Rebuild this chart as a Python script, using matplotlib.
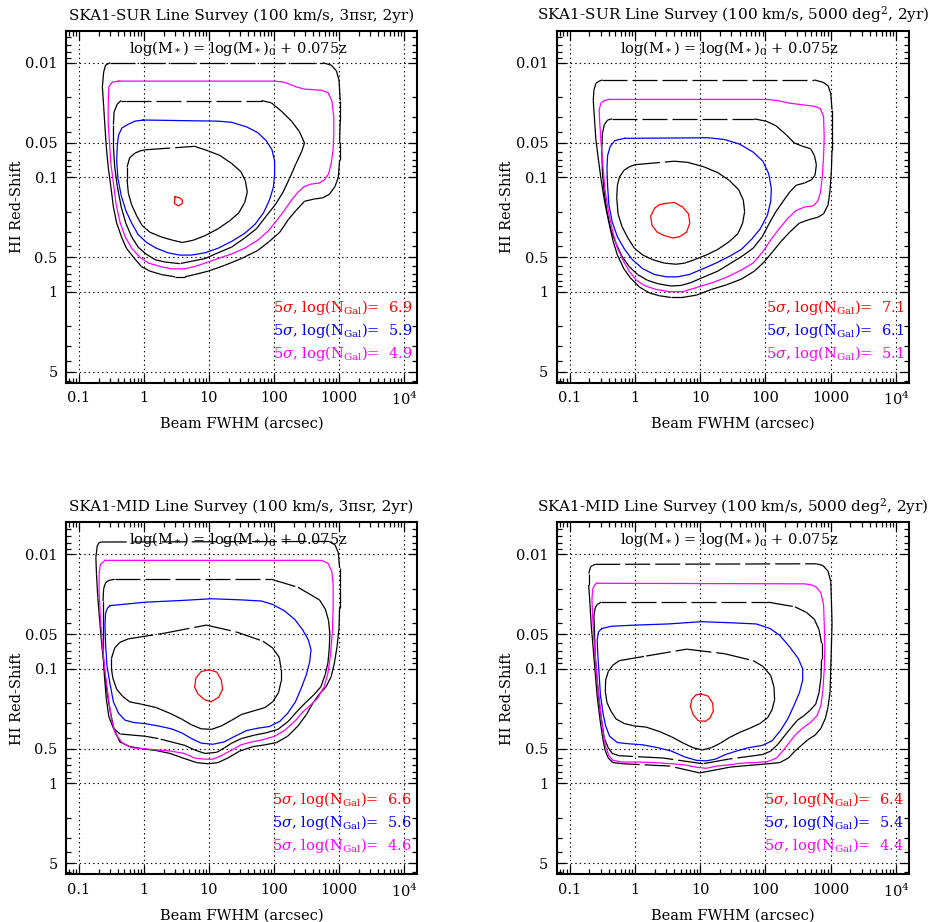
"""HI line survey detection contours for SKA1-SUR and SKA1-MID."""
import numpy as np
import matplotlib
matplotlib.use('Agg')
import matplotlib.pyplot as plt
from matplotlib.collections import LineCollection
from matplotlib.ticker import LogLocator, NullFormatter

plt.rcParams['font.family'] = ['DejaVu Serif']
plt.rcParams['mathtext.fontset'] = 'dejavuserif'
plt.rcParams['font.size'] = 10
plt.rcParams['lines.scale_dashes'] = False

# contour vertices: (log10 beam FWHM [arcsec], log10 z)

# SKA1-SUR, 3 pi sr
sur3_outer = [(-0.52, -2.00), (2.75, -2.00), (2.88, -1.98), (2.96, -1.93), (3.00, -1.85), (3.02, -1.67),
              (3.02, -1.50), (3.01, -1.31), (3.01, -1.15), (2.99, -1.00), (2.94, -0.92), (2.85, -0.85),
              (2.75, -0.82), (2.62, -0.81), (2.47, -0.79), (2.34, -0.71), (2.22, -0.63), (2.09, -0.52),
              (1.93, -0.44), (1.75, -0.36), (1.50, -0.29), (1.24, -0.23), (0.99, -0.18), (0.78, -0.15),
              (0.63, -0.13), (0.48, -0.13), (0.27, -0.15), (0.09, -0.18), (-0.04, -0.22), (-0.16, -0.30),
              (-0.27, -0.38), (-0.34, -0.47), (-0.42, -0.60), (-0.47, -0.74), (-0.51, -0.92), (-0.55, -1.09),
              (-0.58, -1.27), (-0.60, -1.44), (-0.62, -1.62), (-0.64, -1.79), (-0.62, -1.92), (-0.59, -1.98)]
sur3_mid = [(-0.27, -1.67), (1.81, -1.67), (1.96, -1.65), (2.11, -1.58), (2.27, -1.49), (2.39, -1.40),
            (2.47, -1.30), (2.43, -1.23), (2.34, -1.12), (2.24, -0.99), (2.14, -0.87), (2.02, -0.76),
            (1.88, -0.66), (1.73, -0.55), (1.55, -0.47), (1.35, -0.39), (1.14, -0.34), (0.94, -0.29),
            (0.55, -0.245), (0.32, -0.26), (0.17, -0.28), (0.03, -0.33), (-0.09, -0.39), (-0.19, -0.48),
            (-0.28, -0.60), (-0.35, -0.74), (-0.41, -0.92), (-0.45, -1.09), (-0.47, -1.27), (-0.47, -1.46),
            (-0.46, -1.57), (-0.41, -1.64), (-0.35, -1.67)]
sur3_inner = [(0.02, -1.24), (0.78, -1.27), (0.99, -1.23), (1.17, -1.19), (1.35, -1.12), (1.49, -1.05),
              (1.56, -0.97), (1.59, -0.87), (1.55, -0.78), (1.46, -0.69), (1.32, -0.62), (1.14, -0.55),
              (0.94, -0.49), (0.76, -0.45), (0.59, -0.43), (0.44, -0.45), (0.26, -0.48), (0.09, -0.52),
              (-0.03, -0.58), (-0.11, -0.66), (-0.19, -0.76), (-0.24, -0.86), (-0.26, -0.98), (-0.26, -1.09),
              (-0.22, -1.17), (-0.14, -1.21), (-0.06, -1.23)]
sur3_magenta = [(-0.39, -1.84), (2.01, -1.84), (2.16, -1.83), (2.34, -1.79), (2.47, -1.77), (2.73, -1.76),
                (2.83, -1.74), (2.89, -1.67), (2.92, -1.53), (2.92, -1.38), (2.91, -1.24), (2.88, -1.12),
                (2.84, -1.03), (2.78, -0.98), (2.70, -0.95), (2.57, -0.94), (2.47, -0.92), (2.37, -0.87),
                (2.27, -0.80), (2.16, -0.71), (2.04, -0.62), (1.91, -0.53), (1.75, -0.45), (1.55, -0.38),
                (1.35, -0.33), (1.14, -0.29), (0.94, -0.25), (0.78, -0.22), (0.63, -0.20), (0.42, -0.20),
                (0.25, -0.22), (0.07, -0.25), (-0.06, -0.30), (-0.19, -0.38), (-0.29, -0.48), (-0.37, -0.61),
                (-0.43, -0.77), (-0.47, -0.95), (-0.51, -1.12), (-0.53, -1.30), (-0.55, -1.47), (-0.55, -1.65),
                (-0.54, -1.79), (-0.49, -1.83)]
sur3_blue = [(-0.01, -1.50), (1.14, -1.49), (1.35, -1.48), (1.58, -1.44), (1.75, -1.39), (1.88, -1.32),
             (1.97, -1.24), (2.01, -1.14), (2.01, -1.02), (1.99, -0.91), (1.93, -0.80), (1.84, -0.69),
             (1.71, -0.59), (1.55, -0.51), (1.35, -0.44), (1.14, -0.38), (0.94, -0.34), (0.73, -0.32),
             (0.55, -0.32), (0.37, -0.34), (0.19, -0.38), (0.04, -0.43), (-0.09, -0.50), (-0.19, -0.60),
             (-0.28, -0.71), (-0.35, -0.84), (-0.40, -0.99), (-0.42, -1.14), (-0.41, -1.28), (-0.39, -1.37),
             (-0.34, -1.43), (-0.25, -1.46), (-0.14, -1.49)]
sur3_red = [(0.48, -0.83), (0.55, -0.82), (0.59, -0.80), (0.59, -0.77), (0.53, -0.75), (0.47, -0.77),
            (0.47, -0.80)]

# SKA1-SUR, 5000 deg^2
sur5_outer = [(-0.50, -1.85), (2.75, -1.85), (2.88, -1.83), (2.96, -1.80), (3.00, -1.73), (3.02, -1.59),
              (3.02, -1.41), (3.02, -1.24), (3.01, -1.06), (2.99, -0.89), (2.96, -0.76), (2.89, -0.68),
              (2.80, -0.65), (2.67, -0.63), (2.52, -0.60), (2.37, -0.52), (2.24, -0.44), (2.11, -0.35),
              (1.98, -0.26), (1.83, -0.18), (1.63, -0.11), (1.40, -0.06), (1.17, -0.02), (0.94, 0.03),
              (0.73, 0.05), (0.55, 0.05), (0.37, 0.035), (0.22, 0.01), (0.07, -0.04), (-0.07, -0.12),
              (-0.17, -0.20), (-0.27, -0.32), (-0.34, -0.45), (-0.41, -0.63), (-0.47, -0.80), (-0.52, -0.98),
              (-0.56, -1.15), (-0.60, -1.33), (-0.62, -1.50), (-0.64, -1.67), (-0.63, -1.76), (-0.60, -1.82),
              (-0.55, -1.84)]
sur5_mid = [(-0.35, -1.51), (1.83, -1.51), (2.01, -1.49), (2.16, -1.45), (2.32, -1.37), (2.44, -1.30),
            (2.57, -1.27), (2.69, -1.25), (2.75, -1.19), (2.78, -1.11), (2.76, -1.02), (2.71, -0.98),
            (2.60, -0.95), (2.47, -0.93), (2.37, -0.87), (2.27, -0.79), (2.16, -0.70), (2.06, -0.60),
            (1.95, -0.48), (1.81, -0.38), (1.64, -0.31), (1.47, -0.25), (1.27, -0.18), (1.06, -0.13),
            (0.86, -0.08), (0.71, -0.055), (0.55, -0.05), (0.35, -0.07), (0.19, -0.10), (0.04, -0.15),
            (-0.09, -0.22), (-0.20, -0.31), (-0.29, -0.42), (-0.37, -0.54), (-0.43, -0.70), (-0.47, -0.86),
            (-0.50, -1.05), (-0.51, -1.24), (-0.50, -1.38), (-0.47, -1.46), (-0.42, -1.50)]
sur5_inner = [(0.00, -1.11), (0.60, -1.14), (0.81, -1.13), (1.06, -1.09), (1.27, -1.04), (1.45, -0.97),
              (1.59, -0.89), (1.66, -0.80), (1.68, -0.70), (1.65, -0.60), (1.58, -0.51), (1.45, -0.44),
              (1.27, -0.37), (1.09, -0.32), (0.91, -0.28), (0.76, -0.25), (0.63, -0.24), (0.45, -0.25),
              (0.27, -0.28), (0.12, -0.32), (-0.01, -0.38), (-0.11, -0.47), (-0.20, -0.57), (-0.26, -0.68),
              (-0.28, -0.82), (-0.27, -0.93), (-0.24, -1.00), (-0.17, -1.06), (-0.09, -1.09)]
sur5_magenta = [(-0.40, -1.68), (2.01, -1.68), (2.19, -1.67), (2.34, -1.65), (2.47, -1.64), (2.75, -1.62),
                (2.84, -1.60), (2.89, -1.53), (2.90, -1.35), (2.89, -1.18), (2.87, -1.00), (2.84, -0.86),
                (2.80, -0.79), (2.73, -0.75), (2.60, -0.74), (2.47, -0.71), (2.34, -0.64), (2.21, -0.55),
                (2.09, -0.46), (1.96, -0.35), (1.81, -0.25), (1.63, -0.19), (1.42, -0.13), (1.19, -0.08),
                (0.96, -0.04), (0.73, 0.00), (0.53, 0.00), (0.32, -0.02), (0.16, -0.05), (0.02, -0.10),
                (-0.09, -0.18), (-0.17, -0.26), (-0.27, -0.38), (-0.34, -0.52), (-0.40, -0.68), (-0.46, -0.89),
                (-0.49, -1.09), (-0.52, -1.30), (-0.54, -1.47), (-0.55, -1.59), (-0.52, -1.65), (-0.47, -1.67)]
sur5_blue = [(-0.16, -1.34), (1.12, -1.345), (1.37, -1.33), (1.60, -1.29), (1.81, -1.22), (1.96, -1.14),
             (2.05, -1.03), (2.09, -0.90), (2.08, -0.79), (2.03, -0.67), (1.92, -0.55), (1.79, -0.46),
             (1.63, -0.37), (1.45, -0.31), (1.24, -0.25), (1.04, -0.20), (0.83, -0.15), (0.65, -0.13),
             (0.48, -0.13), (0.30, -0.15), (0.12, -0.20), (-0.04, -0.28), (-0.16, -0.37), (-0.27, -0.48),
             (-0.35, -0.61), (-0.40, -0.76), (-0.42, -0.92), (-0.43, -1.08), (-0.42, -1.19), (-0.38, -1.27),
             (-0.31, -1.32), (-0.24, -1.33)]
sur5_red = [(0.45, -0.77), (0.60, -0.78), (0.73, -0.74), (0.82, -0.68), (0.84, -0.60), (0.79, -0.52),
            (0.68, -0.48), (0.58, -0.47), (0.45, -0.49), (0.34, -0.52), (0.26, -0.58), (0.24, -0.66),
            (0.30, -0.73), (0.37, -0.76)]

# SKA1-MID, 3 pi sr
mid3_outer = [(-0.65, -2.105), (2.85, -2.11), (2.94, -2.08), (2.99, -2.01), (3.01, -1.88), (3.01, -1.70),
              (3.01, -1.53), (3.00, -1.35), (2.97, -1.19), (2.93, -1.05), (2.88, -0.93), (2.80, -0.84),
              (2.70, -0.78), (2.60, -0.70), (2.50, -0.60), (2.37, -0.50), (2.21, -0.41), (2.04, -0.355),
              (1.86, -0.335), (1.68, -0.32), (1.47, -0.28), (1.29, -0.22), (1.14, -0.18), (0.99, -0.17),
              (0.81, -0.18), (0.60, -0.22), (0.40, -0.26), (0.19, -0.285), (-0.01, -0.30), (-0.22, -0.32),
              (-0.37, -0.36), (-0.46, -0.47), (-0.52, -0.63), (-0.57, -0.80), (-0.61, -1.00), (-0.65, -1.21),
              (-0.68, -1.41), (-0.71, -1.62), (-0.73, -1.82), (-0.74, -1.97), (-0.72, -2.07), (-0.69, -2.10)]
mid3_mid = [(-0.45, -1.78), (1.96, -1.78), (2.37, -1.71), (2.70, -1.60), (2.79, -1.52), (2.84, -1.42),
            (2.86, -1.30), (2.85, -1.17), (2.83, -1.05), (2.79, -0.95), (2.72, -0.84), (2.61, -0.77),
            (2.48, -0.70), (2.36, -0.63), (2.22, -0.54), (2.06, -0.47), (1.88, -0.44), (1.70, -0.42),
            (1.50, -0.39), (1.35, -0.35), (1.24, -0.31), (1.12, -0.27), (0.94, -0.26), (0.78, -0.29),
            (0.63, -0.33), (0.22, -0.39), (0.02, -0.41), (-0.37, -0.43), (-0.47, -0.48), (-0.54, -0.58),
            (-0.58, -0.74), (-0.61, -0.95), (-0.63, -1.17), (-0.63, -1.38), (-0.63, -1.59), (-0.62, -1.70),
            (-0.59, -1.75), (-0.54, -1.77)]
mid3_inner = [(-0.50, -1.09), (-0.45, -1.18), (-0.37, -1.23), (-0.24, -1.26), (0.32, -1.31), (0.96, -1.38),
              (1.42, -1.32), (1.83, -1.24), (1.98, -1.18), (2.08, -1.10), (2.11, -1.00), (2.11, -0.89),
              (2.07, -0.79), (1.98, -0.71), (1.86, -0.66), (1.68, -0.63), (1.50, -0.60), (1.35, -0.55),
              (1.19, -0.50), (1.04, -0.47), (0.88, -0.475), (0.73, -0.51), (0.58, -0.56), (0.40, -0.61),
              (0.19, -0.66), (-0.04, -0.69), (-0.22, -0.71), (-0.33, -0.76), (-0.42, -0.82), (-0.48, -0.92),
              (-0.50, -1.00)]
mid3_magenta = [(-0.60, -1.945), (2.73, -1.945), (2.83, -1.92), (2.89, -1.85), (2.91, -1.73), (2.91, -1.53),
                (2.90, -1.33), (2.87, -1.12), (2.83, -0.96), (2.77, -0.84), (2.67, -0.74), (2.56, -0.68),
                (2.44, -0.62), (2.32, -0.54), (2.16, -0.46), (2.01, -0.41), (1.83, -0.38), (1.65, -0.36),
                (1.49, -0.335), (1.35, -0.29), (1.19, -0.24), (1.06, -0.21), (0.93, -0.21), (0.78, -0.22),
                (0.62, -0.26), (0.42, -0.28), (0.22, -0.29), (0.02, -0.30), (-0.19, -0.31), (-0.33, -0.35),
                (-0.44, -0.43), (-0.50, -0.56), (-0.55, -0.76), (-0.60, -0.98), (-0.64, -1.21), (-0.67, -1.44),
                (-0.69, -1.67), (-0.69, -1.83), (-0.67, -1.91), (-0.63, -1.93)]
mid3_blue = [(-0.52, -1.55), (0.02, -1.58), (0.58, -1.595), (1.04, -1.61), (1.50, -1.60), (1.81, -1.59),
             (1.98, -1.56), (2.16, -1.505), (2.32, -1.43), (2.44, -1.34), (2.53, -1.25), (2.57, -1.165),
             (2.55, -1.06), (2.50, -0.95), (2.42, -0.83), (2.33, -0.71), (2.21, -0.61), (2.09, -0.54),
             (1.93, -0.495), (1.75, -0.48), (1.58, -0.46), (1.40, -0.41), (1.23, -0.36), (1.06, -0.34),
             (0.88, -0.35), (0.73, -0.39), (0.58, -0.44), (0.42, -0.475), (0.22, -0.50), (0.02, -0.52),
             (-0.16, -0.53), (-0.29, -0.55), (-0.39, -0.61), (-0.47, -0.71), (-0.52, -0.86), (-0.57, -1.03),
             (-0.59, -1.21), (-0.60, -1.38), (-0.59, -1.485), (-0.56, -1.53)]
mid3_red = [(1.00, -0.99), (1.12, -0.97), (1.19, -0.90), (1.21, -0.82), (1.15, -0.75), (1.03, -0.71),
            (0.93, -0.73), (0.83, -0.78), (0.78, -0.84), (0.80, -0.92), (0.88, -0.975)]

# SKA1-MID, 5000 deg^2
mid5_outer = [(-0.61, -1.91), (2.78, -1.915), (2.88, -1.90), (2.96, -1.85), (3.00, -1.76), (3.01, -1.60),
              (3.02, -1.40), (3.01, -1.19), (3.00, -0.99), (2.99, -0.80), (2.96, -0.67), (2.92, -0.57),
              (2.85, -0.48), (2.76, -0.42), (2.65, -0.38), (2.55, -0.33), (2.45, -0.28), (2.35, -0.22),
              (2.22, -0.18), (2.04, -0.17), (1.84, -0.16), (1.63, -0.15), (1.45, -0.14), (1.27, -0.12),
              (0.99, -0.09), (0.53, -0.15), (-0.18, -0.17), (-0.34, -0.18), (-0.41, -0.22), (-0.46, -0.29),
              (-0.50, -0.41), (-0.54, -0.57), (-0.58, -0.76), (-0.61, -0.96), (-0.64, -1.17), (-0.67, -1.37),
              (-0.69, -1.56), (-0.71, -1.73), (-0.71, -1.83), (-0.68, -1.89), (-0.65, -1.90)]
mid5_mid = [(-0.52, -1.58), (2.04, -1.58), (2.45, -1.54), (2.63, -1.49), (2.75, -1.43), (2.82, -1.34),
            (2.86, -1.22), (2.86, -1.08), (2.85, -0.92), (2.82, -0.79), (2.77, -0.69), (2.68, -0.635),
            (2.59, -0.59), (2.49, -0.55), (2.40, -0.49), (2.30, -0.42), (2.19, -0.34), (2.08, -0.28),
            (1.95, -0.25), (1.43, -0.21), (1.04, -0.17), (0.43, -0.22), (-0.24, -0.24), (-0.35, -0.26),
            (-0.41, -0.31), (-0.47, -0.39), (-0.51, -0.54), (-0.55, -0.71), (-0.58, -0.90), (-0.61, -1.11),
            (-0.62, -1.31), (-0.63, -1.46), (-0.61, -1.53), (-0.58, -1.56)]
mid5_inner = [(-0.34, -1.03), (-0.24, -1.07), (0.17, -1.11), (0.79, -1.17), (1.375, -1.13), (1.81, -1.07),
              (1.96, -1.02), (2.08, -0.94), (2.13, -0.84), (2.14, -0.73), (2.10, -0.64), (2.03, -0.57),
              (1.91, -0.52), (1.76, -0.48), (1.61, -0.445), (1.45, -0.40), (1.31, -0.35), (1.17, -0.31),
              (1.03, -0.29), (0.89, -0.31), (0.74, -0.35), (0.56, -0.405), (0.38, -0.45), (0.17, -0.49),
              (-0.01, -0.50), (-0.16, -0.52), (-0.29, -0.56), (-0.37, -0.63), (-0.43, -0.705), (-0.455, -0.80),
              (-0.45, -0.90), (-0.41, -0.975)]
mid5_magenta = [(-0.59, -1.745), (2.60, -1.74), (2.71, -1.73), (2.78, -1.71), (2.85, -1.66), (2.89, -1.56),
                (2.90, -1.40), (2.91, -1.19), (2.90, -0.99), (2.88, -0.815), (2.85, -0.68), (2.79, -0.59),
                (2.69, -0.53), (2.59, -0.49), (2.47, -0.43), (2.37, -0.36), (2.27, -0.285), (2.17, -0.22),
                (2.04, -0.19), (1.84, -0.18), (1.63, -0.175), (1.43, -0.16), (1.25, -0.15), (1.09, -0.13),
                (0.94, -0.14), (0.76, -0.16), (0.56, -0.17), (0.30, -0.18), (0.05, -0.185), (-0.21, -0.185),
                (-0.34, -0.20), (-0.40, -0.24), (-0.45, -0.32), (-0.49, -0.45), (-0.53, -0.64), (-0.57, -0.84),
                (-0.60, -1.05), (-0.63, -1.25), (-0.65, -1.46), (-0.66, -1.60), (-0.65, -1.69), (-0.63, -1.72)]
mid5_blue = [(-0.51, -1.35), (-0.36, -1.37), (0.00, -1.38), (0.51, -1.39), (1.02, -1.41), (1.48, -1.40),
             (1.86, -1.39), (2.07, -1.35), (2.22, -1.29), (2.37, -1.19), (2.50, -1.09), (2.57, -1.00),
             (2.57, -0.90), (2.52, -0.79), (2.43, -0.67), (2.34, -0.56), (2.23, -0.46), (2.10, -0.37),
             (1.95, -0.33), (1.74, -0.31), (1.55, -0.28), (1.385, -0.25), (1.23, -0.21), (1.09, -0.195),
             (0.94, -0.20), (0.76, -0.23), (0.56, -0.28), (0.35, -0.31), (0.12, -0.335), (-0.11, -0.345),
             (-0.27, -0.355), (-0.39, -0.41), (-0.45, -0.50), (-0.49, -0.61), (-0.53, -0.77), (-0.55, -0.95),
             (-0.57, -1.12), (-0.58, -1.25), (-0.56, -1.32)]
mid5_red = [(1.01, -0.78), (1.12, -0.76), (1.19, -0.70), (1.20, -0.63), (1.15, -0.57), (1.08, -0.54),
            (0.97, -0.545), (0.89, -0.60), (0.85, -0.67), (0.87, -0.73), (0.93, -0.77)]

# log(N_Gal) for the red, blue and magenta contours
sur3_ngal = [6.9, 5.9, 4.9]
sur5_ngal = [7.1, 6.1, 5.1]
mid3_ngal = [6.6, 5.6, 4.6]
mid5_ngal = [6.4, 5.4, 4.4]

titles = ['SKA1-SUR Line Survey (100 km/s, 3\u03c0sr, 2yr)',
          'SKA1-SUR Line Survey (100 km/s, 5000 deg$^2$, 2yr)',
          'SKA1-MID Line Survey (100 km/s, 3\u03c0sr, 2yr)',
          'SKA1-MID Line Survey (100 km/s, 5000 deg$^2$, 2yr)']

beam_ticks = [0.1, 1, 10, 100, 1000, 1e4]
beam_labels = ['0.1', '1', '10', '100', '1000', '10$^4$']
z_ticks = [0.01, 0.05, 0.1, 0.5, 1, 5]
z_labels = ['0.01', '0.05', '0.1', '0.5', '1', '5']

panels = [
    (titles[0], [sur3_outer, sur3_mid, sur3_inner], sur3_magenta, sur3_blue, sur3_red, sur3_ngal),
    (titles[1], [sur5_outer, sur5_mid, sur5_inner], sur5_magenta, sur5_blue, sur5_red, sur5_ngal),
    (titles[2], [mid3_outer, mid3_mid, mid3_inner], mid3_magenta, mid3_blue, mid3_red, mid3_ngal),
    (titles[3], [mid5_outer, mid5_mid, mid5_inner], mid5_magenta, mid5_blue, mid5_red, mid5_ngal),
]

axes_rects = [[0.0707, 0.5849, 0.3762, 0.3814],
              [0.5967, 0.5849, 0.3776, 0.3814],
              [0.0707, 0.0517, 0.3762, 0.3818],
              [0.5967, 0.0517, 0.3776, 0.3818]]


def closed(verts):
    v = 10 ** np.array(list(verts) + [verts[0]])
    return v[:, 0], v[:, 1]


def draw_panel(ax, title, black, magenta, blue, red, ngal):
    # black contours: dash pattern restarts on every segment, so long
    # straight runs come out dashed and the curved parts stay solid
    for verts in black:
        x, y = closed(verts)
        pts = np.column_stack([x, y])
        segs = np.stack([pts[:-1], pts[1:]], axis=1)
        ax.add_collection(LineCollection(segs, colors='k', linewidths=0.9,
                                         linestyles=[(0, (18, 3.6))]), autolim=False)
    for verts, col in ((magenta, 'magenta'), (blue, 'blue'), (red, 'red')):
        x, y = closed(verts)
        ax.plot(x, y, color=col, lw=0.9)

    ax.set_xscale('log')
    ax.set_yscale('log')
    ax.set_xlim(10 ** -1.2, 10 ** 4.2)
    ax.set_ylim(10 ** 0.795, 10 ** -2.277)
    ax.set_xticks(beam_ticks, labels=beam_labels)
    ax.set_yticks(z_ticks, labels=z_labels)
    ax.xaxis.set_minor_locator(LogLocator(base=10, subs=np.arange(2, 10), numticks=20))
    ax.yaxis.set_minor_locator(LogLocator(base=10, subs=np.arange(2, 10), numticks=20))
    ax.xaxis.set_minor_formatter(NullFormatter())
    ax.yaxis.set_minor_formatter(NullFormatter())
    ax.tick_params(which='both', direction='in', top=True, right=True, width=0.9, labelsize=10.5)
    ax.tick_params(which='major', length=6.5, pad=6)
    ax.tick_params(which='minor', length=3.5)
    ax.grid(True, which='major', color='k', linestyle=(0, (1, 2.2)), linewidth=0.8)
    for sp in ax.spines.values():
        sp.set_linewidth(1.5)

    ax.set_title(title, fontsize=11, pad=8)
    ax.set_xlabel('Beam FWHM (arcsec)', fontsize=10.5, labelpad=6)
    ax.set_ylabel('HI Red-Shift', fontsize=10.5, labelpad=1)

    ax.text(0.49, 0.951, r'log(M$_*$) = log(M$_*$)$_0$ + 0.075z', transform=ax.transAxes,
            ha='center', va='center', fontsize=10.5)
    for yy, col, val in zip([0.213, 0.148, 0.082], ['red', 'blue', 'magenta'], ngal):
        ax.text(0.986, yy, r'5$\sigma$, log(N$_{\rm Gal}$)=  %.1f' % val, transform=ax.transAxes,
                ha='right', va='center', color=col, fontsize=10.5)


fig = plt.figure(figsize=(9.33, 9.22), dpi=100)
for rect, (title, black, magenta, blue, red, ngal) in zip(axes_rects, panels):
    ax = fig.add_axes(rect)
    draw_panel(ax, title, black, magenta, blue, red, ngal)

fig.savefig('out.png', dpi=100)
